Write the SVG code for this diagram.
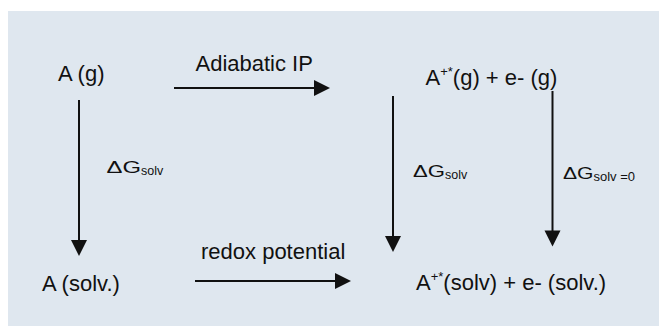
<svg xmlns="http://www.w3.org/2000/svg" width="659" height="326" viewBox="0 0 659 326">
  <style>
    text { font-family: "Liberation Sans", Arial, sans-serif; fill: #111; }
    .main { font-size: 22px; }
    .sup { font-size: 13px; }
    .dg { font-size: 17px; }
    .sub { font-size: 12.5px; }
    .shaft { stroke: #111; stroke-width: 2; fill: none; }
    .head { fill: #111; }
  </style>
  <defs>
    <polygon id="headR" class="head" points="-16,-8 0,0 -16,8"/>
    <polygon id="headD" class="head" points="-8,-16 0,0 8,-16"/>
  </defs>

  <!-- panel background -->
  <rect x="8" y="11" width="651" height="315" fill="#dfe7ef"/>

  <!-- species -->
  <g id="node-A-gas">
    <text class="main" x="58" y="80.5">A (g)</text>
  </g>
  <g id="node-cation-gas">
    <text class="main" x="425.5" y="84.5">A<tspan class="sup" dy="-9">+*</tspan><tspan dy="9">(g) + e- (g)</tspan></text>
  </g>
  <g id="node-A-solv">
    <text class="main" x="42" y="290.5">A (solv.)</text>
  </g>
  <g id="node-cation-solv">
    <text class="main" x="416" y="289.5">A<tspan class="sup" dy="-9">+*</tspan><tspan dy="9">(solv) + e- (solv.)</tspan></text>
  </g>

  <!-- processes -->
  <g id="connectors">
    <!-- adiabatic ionisation -->
    <line class="shaft" x1="174" y1="88" x2="315" y2="88"/>
    <use href="#headR" x="330" y="88"/>
    <text class="main" x="195.5" y="71">Adiabatic IP</text>

    <!-- redox potential -->
    <line class="shaft" x1="195" y1="281" x2="336" y2="281"/>
    <use href="#headR" x="351" y="281"/>
    <text class="main" x="201" y="259">redox potential</text>

    <!-- solvation of A -->
    <line class="shaft" x1="79" y1="100" x2="79" y2="241"/>
    <use href="#headD" x="79" y="256"/>
    <text x="106.5" y="172.5"><tspan class="dg" textLength="34.5" lengthAdjust="spacingAndGlyphs">ΔG</tspan><tspan class="sub" dy="2">solv</tspan></text>

    <!-- solvation of cation -->
    <line class="shaft" x1="393" y1="96" x2="393" y2="237"/>
    <use href="#headD" x="393" y="252"/>
    <text x="413" y="177"><tspan class="dg" textLength="32" lengthAdjust="spacingAndGlyphs">ΔG</tspan><tspan class="sub" dy="2">solv</tspan></text>

    <!-- solvation of electron -->
    <line class="shaft" x1="552.5" y1="91" x2="552.5" y2="231"/>
    <use href="#headD" x="552.5" y="246.5"/>
    <text x="563" y="178.5"><tspan class="dg" textLength="30.5" lengthAdjust="spacingAndGlyphs">ΔG</tspan><tspan class="sub" dy="2" style="font-size:13px">solv =0</tspan></text>
  </g>
</svg>
